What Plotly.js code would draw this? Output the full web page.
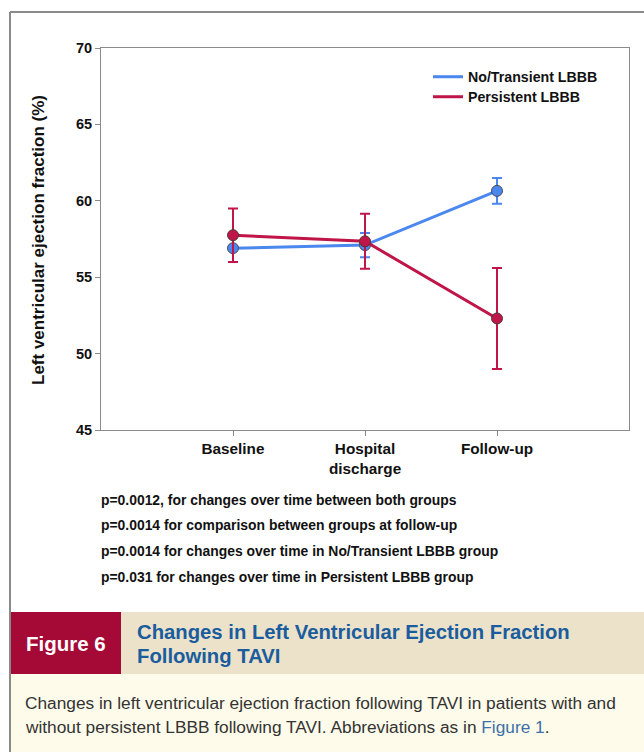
<!DOCTYPE html>
<html>
<head>
<meta charset="utf-8">
<script src="https://cdn.plot.ly/plotly-3.0.1.min.js"></script>
<style>
html,body{margin:0;padding:0;background:#fff;}
#chart{width:644px;height:752px;}
</style>
</head>
<body>
<div id="chart"></div>
<script>
// ---- data ----
const categories = ['Baseline', 'Hospital<br>discharge', 'Follow-up'];
const noTransientLBBB = [56.9, 57.1, 60.65];
const noTransientErr = [0.9, 0.8, 0.85];
const persistentLBBB = [57.75, 57.35, 52.3];
const persistentErr = [1.75, 1.8, 3.3];
const seriesNames = ['No/Transient LBBB', 'Persistent LBBB'];
const yTicks = [45, 50, 55, 60, 65, 70];
const yTitle = 'Left ventricular ejection fraction (%)';
const pValueNotes = [
  'p=0.0012, for changes over time between both groups',
  'p=0.0014 for comparison between groups at follow-up',
  'p=0.0014 for changes over time in No/Transient LBBB group',
  'p=0.031 for changes over time in Persistent LBBB group'
];
const figureLabel = 'Figure 6';
const figureTitle = ['Changes in Left Ventricular Ejection Fraction', 'Following TAVI'];
const captionLines = [
  'Changes in left ventricular ejection fraction following TAVI in patients with and',
  'without persistent LBBB following TAVI. Abbreviations as in <span style="color:#3d6fa8">Figure 1</span>.'
];

// ---- styling ----
const W = 644, H = 752;
const px = v => v / W;
const py = v => 1 - v / H;
const BLUE = '#4a87ee';
const RED = '#c01548';
const AX = '#8a8a8a';
const boldFont = 'Liberation Sans, Arial, sans-serif';
const narrow = '"Liberation Sans Narrow", "Arial Narrow", "Liberation Sans", Arial, sans-serif';

const traces = [
  {
    x: categories, y: noTransientLBBB, type: 'scatter', mode: 'lines+markers',
    name: seriesNames[0], showlegend: false,
    line: {color: BLUE, width: 3},
    marker: {size: 11, color: BLUE, line: {color: '#4a4a5a', width: 1}},
    error_y: {type: 'data', array: noTransientErr, visible: true, color: BLUE, thickness: 2, width: 5}
  },
  {
    x: categories, y: persistentLBBB, type: 'scatter', mode: 'lines+markers',
    name: seriesNames[1], showlegend: false,
    line: {color: RED, width: 3},
    marker: {size: 11, color: RED, line: {color: '#4a3a3a', width: 1}},
    error_y: {type: 'data', array: persistentErr, visible: true, color: RED, thickness: 2, width: 5}
  },
  {x: [null], y: [null], type: 'scatter', mode: 'lines', name: seriesNames[0], legend: 'legend', line: {color: BLUE, width: 3}},
  {x: [null], y: [null], type: 'scatter', mode: 'lines', name: seriesNames[1], legend: 'legend2', line: {color: RED, width: 3}}
];

const annotations = [];
annotations.push({
  xref: 'paper', yref: 'paper', x: px(38), y: py(240), xanchor: 'center', yanchor: 'middle',
  textangle: -90, text: yTitle, showarrow: false,
  font: {family: boldFont, size: 17, color: '#111', weight: 'bold'}
});
const pY = [500, 525, 551, 577];
pValueNotes.forEach((t, i) => annotations.push({
  xref: 'paper', yref: 'paper', x: px(99), y: py(pY[i]), xanchor: 'left', yanchor: 'middle',
  text: t, showarrow: false, font: {family: boldFont, size: 13.9, color: '#111', weight: 'bold'}
}));
annotations.push({
  xref: 'paper', yref: 'paper', x: px(66), y: py(643), xanchor: 'center', yanchor: 'middle',
  text: '<b>' + figureLabel + '</b>', showarrow: false, font: {family: narrow, size: 20.5, color: '#fff'}
});
figureTitle.forEach((t, i) => annotations.push({
  xref: 'paper', yref: 'paper', x: px(135), y: py(632 + i * 24), xanchor: 'left', yanchor: 'middle',
  text: '<b>' + t + '</b>', showarrow: false, font: {family: narrow, size: 20.3, color: '#1a5c9e'}
}));
captionLines.forEach((t, i) => annotations.push({
  xref: 'paper', yref: 'paper', x: px(23), y: py(703 + i * 24), xanchor: 'left', yanchor: 'middle',
  text: t, showarrow: false, font: {family: narrow, size: 17.3, color: '#333'}
}));

const shapes = [
  {type: 'rect', xref: 'paper', yref: 'paper', x0: px(10), x1: px(644), y0: py(752), y1: py(674), fillcolor: '#fefbea', line: {width: 0}, layer: 'below'},
  {type: 'rect', xref: 'paper', yref: 'paper', x0: px(121), x1: px(644), y0: py(674), y1: py(612), fillcolor: '#ebe2c9', line: {width: 0}, layer: 'below'},
  {type: 'rect', xref: 'paper', yref: 'paper', x0: px(10), x1: px(121), y0: py(674), y1: py(612), fillcolor: '#a50a37', line: {width: 0}, layer: 'below'},
  {type: 'line', xref: 'paper', yref: 'paper', x0: px(10), x1: px(10), y0: py(12), y1: py(752), line: {color: '#8a8a8a', width: 2}},
  {type: 'line', xref: 'paper', yref: 'paper', x0: px(10), x1: px(644), y0: py(12), y1: py(12), line: {color: '#8a8a8a', width: 2}}
];

const legendStyle = (top) => ({
  x: px(428), y: py(top), xanchor: 'left', yanchor: 'top',
  bgcolor: 'rgba(0,0,0,0)', borderwidth: 0,
  font: {family: boldFont, size: 14.2, color: '#111', weight: 'bold'}
});

const layout = {
  width: W, height: H,
  margin: {l: 0, r: 0, t: 0, b: 0},
  paper_bgcolor: '#ffffff', plot_bgcolor: '#ffffff',
  font: {family: boldFont},
  showlegend: true,
  legend: legendStyle(61),
  legend2: legendStyle(81),
  xaxis: {
    domain: [px(101), px(629)],
    type: 'category', range: [-1, 3],
    showline: true, linecolor: AX, linewidth: 1, mirror: true,
    showgrid: false, zeroline: false,
    ticks: 'outside', ticklen: 5, tickcolor: AX,
    tickfont: {family: boldFont, size: 15.3, color: '#111', weight: 'bold'}
  },
  yaxis: {
    domain: [py(430), py(48)],
    range: [45, 70], tickvals: yTicks,
    showline: true, linecolor: AX, linewidth: 1, mirror: true,
    showgrid: false, zeroline: false,
    ticks: 'outside', ticklen: 5, tickcolor: AX,
    tickfont: {family: boldFont, size: 14.5, color: '#111', weight: 'bold'}
  },
  annotations: annotations,
  shapes: shapes
};

Plotly.newPlot('chart', traces, layout, {displayModeBar: false, staticPlot: true});
</script>
</body>
</html>
